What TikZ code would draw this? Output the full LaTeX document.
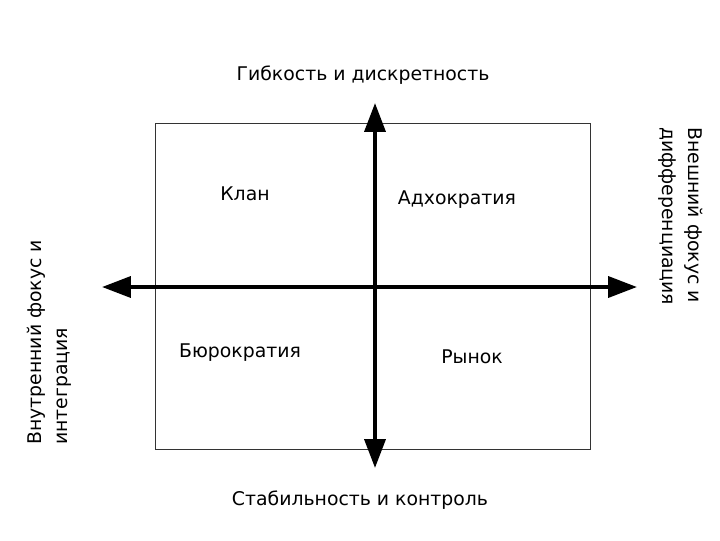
\documentclass[tikz,border=0pt]{standalone}
\usepackage{fontspec}
\setmainfont{DejaVu Sans}
\usetikzlibrary{arrows.meta, positioning}

\begin{document}
\begin{tikzpicture}[x=0.025cm, y=-0.025cm,
		axis/.style = {line width=2.8pt, {Triangle[length=0.72cm, width=0.52cm]}-{Triangle[length=0.72cm, width=0.52cm]}},
		frame/.style = {draw=black!80, line width=0.7pt},
		lbl/.style = {font=\fontsize{13.4}{18.6}\selectfont, inner sep=0pt},
		side/.style = {lbl, align=left, anchor=north west}]
		\useasboundingbox (0,0) rectangle (720,540);
		
		\draw[frame] (155,123) rectangle (590,449);
		
		\coordinate (C) at (375,287);
		\coordinate (N) at (375,103);
		\coordinate (S) at (375,468);
		\coordinate (W) at (102,287);
		\coordinate (E) at (637,287);
		
		%%%%%%%%%%%%%%%%%%%%%%%%%%%%%%
		
		\draw[axis] (W) -- (E);
		\draw[axis] (S) -- (N);
		
		\node[lbl] (top) at (363,75) {Гибкость и дискретность};
		\node[lbl] (bottom) at (360,500) {Стабильность и контроль};
		\node[side, rotate=90] (left) at (27,445) {Внутренний фокус и\\интеграция};
		\node[side, rotate=-90] (right) at (703,127) {Внешний фокус и\\дифференциация};
		
		\node[lbl] (clan) at (245,194) {Клан};
		\node[lbl] (adhoc) at (457,200) {Адхократия};
		\node[lbl] (bureau) at (240,353) {Бюрократия};
		\node[lbl] (market) at (472,357) {Рынок};
		
	\end{tikzpicture}
\end{document}
